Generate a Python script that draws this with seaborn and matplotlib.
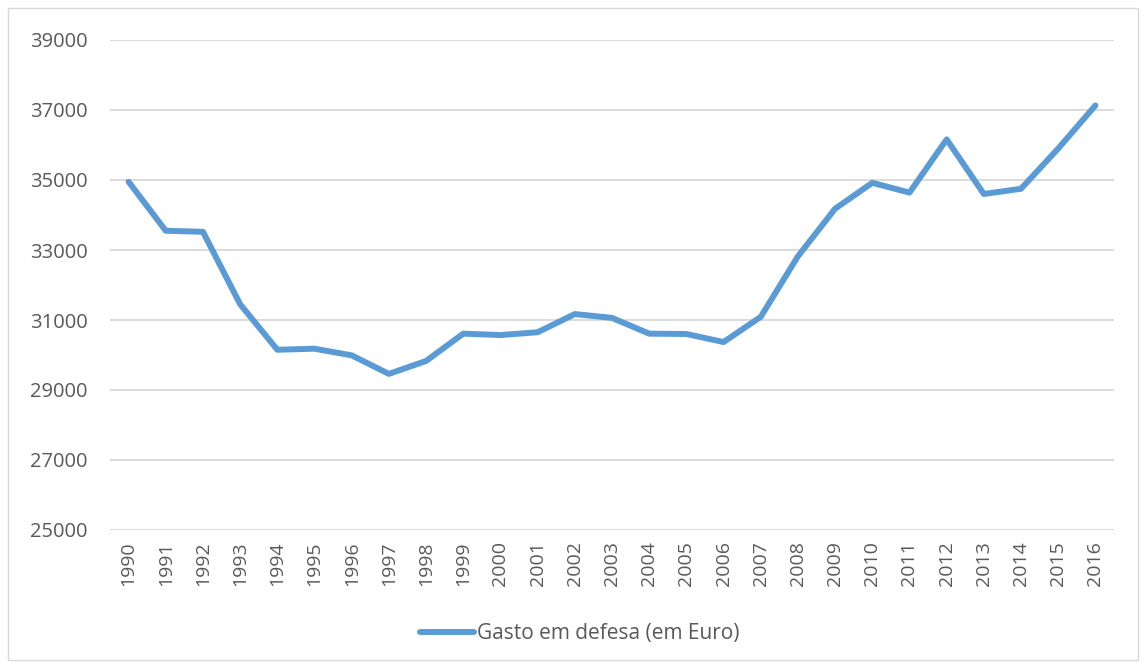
import matplotlib
matplotlib.use("Agg")
import matplotlib.pyplot as plt
import seaborn as sns
import pandas as pd
from matplotlib.patches import Rectangle

years = list(range(1990, 2017))
gasto = [34950, 33550, 33520, 31450, 30150, 30180, 29990, 29460, 29830, 30610,
         30570, 30650, 31170, 31060, 30610, 30600, 30370, 31090, 32820, 34180,
         34920, 34640, 36160, 34600, 34750, 35900, 37130]
yticks = [25000, 27000, 29000, 31000, 33000, 35000, 37000, 39000]
series_name = "Gasto em defesa (em Euro)"

df = pd.DataFrame({"Ano": years, "Valor": gasto, "Serie": series_name})

sns.set_theme(style="white")
plt.rcParams['font.family'] = ['Open Sans', 'DejaVu Sans']

fig = plt.figure(figsize=(11.44, 6.63), dpi=100)
fig.patch.set_facecolor("white")
fig.patches.append(Rectangle((8/1144, 3/663), 1130/1144, 652/663, transform=fig.transFigure,
                             fill=False, edgecolor="#d9d9d9", linewidth=1.0))
ax = fig.add_axes([110/1144, 1 - 530/663, 1004/1144, 490/663])

sns.lineplot(data=df, x="Ano", y="Valor", hue="Serie", palette=["#5b9bd5"],
             linewidth=4.3, ax=ax, legend=True)

ax.set_xlim(1989.5, 2016.5)
ax.set_ylim(25000, 39000)
ax.set_yticks(yticks)
ax.set_yticklabels([str(v) for v in yticks], fontsize=14.5, color="#595959")
ax.set_xticks(years)
ax.set_xticklabels([str(y) for y in years], rotation=90, fontsize=14, color="#595959")
ax.tick_params(axis="both", length=0)
ax.tick_params(axis="y", pad=16)
ax.tick_params(axis="x", pad=8)
ax.yaxis.grid(True, color="#d9d9d9", linewidth=1.3)
ax.xaxis.grid(False)
for s in ax.spines.values():
    s.set_visible(False)
ax.set_xlabel("")
ax.set_ylabel("")

handles, labels = ax.get_legend_handles_labels()
ax.legend(handles, labels, loc="center", frameon=False,
          fontsize=15, labelcolor="#595959", handlelength=2.6, handletextpad=0.15)
leg = ax.get_legend()
leg.set_bbox_to_anchor((580/1144, 1 - 634/663), transform=fig.transFigure)

fig.savefig("out.png", dpi=100)
